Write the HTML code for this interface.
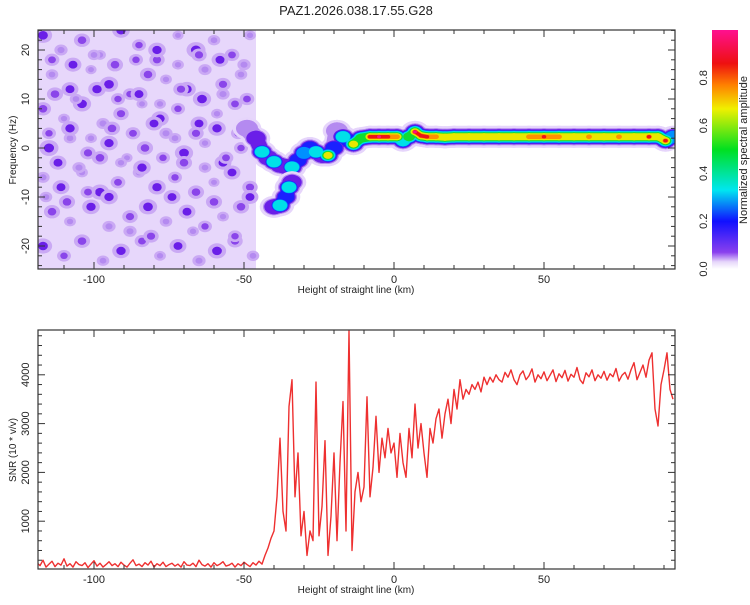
<!DOCTYPE html>
<html><head><meta charset="utf-8"><style>
body{margin:0;background:#fff}
text{font-family:"Liberation Sans",sans-serif;fill:#222}
</style></head><body>
<svg id="fig" width="750" height="600" viewBox="0 0 750 600" xmlns="http://www.w3.org/2000/svg">
<defs>
<clipPath id="clipTop"><rect x="38" y="30" width="637" height="239"/></clipPath>
<clipPath id="clipBot"><rect x="38" y="330" width="637" height="239"/></clipPath>
<linearGradient id="cbar" x1="0" y1="1" x2="0" y2="0">
<stop offset="0" stop-color="#ffffff"/><stop offset="0.03" stop-color="#e6d6fa"/>
<stop offset="0.07" stop-color="#8a40ee"/><stop offset="0.2" stop-color="#1010ff"/>
<stop offset="0.33" stop-color="#00e6f0"/><stop offset="0.5" stop-color="#00e020"/>
<stop offset="0.67" stop-color="#f0f000"/><stop offset="0.77" stop-color="#ff8000"/>
<stop offset="0.86" stop-color="#ee1010"/><stop offset="1" stop-color="#ff1090"/>
</linearGradient>
</defs>
<text x="356" y="15" font-size="13" text-anchor="middle">PAZ1.2026.038.17.55.G28</text>
<g id="topPanel"></g>
<g id="botPanel"></g>
<g id="cbPanel">
<rect x="712" y="30" width="26" height="239" fill="url(#cbar)"/>
<text transform="translate(747,150) rotate(-90)" font-size="11" text-anchor="middle">Normalized spectral amplitude</text>
</g>
</svg>
<script>
const snrStartKm = -119;
const snrValues = [150,90,200,60,120,180,70,140,100,230,80,130,60,170,110,90,150,50,120,190,80,140,60,110,170,90,130,70,160,100,60,140,210,90,120,70,150,100,180,60,130,90,160,70,110,140,80,120,60,170,100,90,140,70,200,110,80,130,60,150,90,120,170,80,100,140,60,130,90,160,110,70,150,100,180,120,
300,450,650,800,1500,
2700,1200,800,3350,3900,1500,2400,700,1200,300,800,600,3850,700,1300,2650,300,1100,2400,600,2200,3450,800,4900,400,1600,2000,1400,1700,3550,1500,2100,3150,2000,2700,2300,2900,2400,
2600,1900,2800,2200,1900,2900,2300,3400,2500,3000,2400,1900,2900,2600,3100,3300,2700,3200,3500,3000,3700,3300,3900,3500,3700,3600,3800,3700,3850,3650,3950,3800,3950,3850,4000,3900,
3850,4050,3950,4100,3900,3800,4000,4080,3900,3980,4120,3850,4000,3920,4060,3880,3990,4100,3860,4020,3940,4090,3870,4010,3950,4150,3900,3820,4040,3960,4100,3880,4000,3930,4070,3890,4020,3960,4130,3870,3990,4050,3910,4100,
4250,3900,4050,4200,3950,4300,4450,3300,2950,3800,4100,4450,3700,3500];
const xTicksMajor = [-100,-50,0,50];
const topYTicks = [-20,-10,0,10,20];
const botYTicks = [1000,2000,3000,4000];
const cbTicks = [0.0,0.2,0.4,0.6,0.8];
const noiseKm = [-117,-111,-104,-98,-91,-85,-79,-72,-66,-60,-54,-48,
 -114,-108,-101,-95,-88,-82,-76,-69,-63,-57,-51,
 -117,-110,-104,-97,-91,-84,-78,-72,-65,-59,-53,-47,
 -115,-108,-102,-95,-89,-83,-76,-70,-63,-57,-51,
 -117,-111,-104,-98,-92,-85,-79,-73,-66,-60,-54,-48,
 -114,-108,-101,-95,-88,-82,-76,-69,-63,-57,-51,
 -117,-110,-104,-97,-91,-84,-78,-72,-65,-59,-53,-47,
 -114,-107,-100,-93,-86,-79,-72,-65,-58,-50,
 -113,-106,-99,-92,-85,-78,-71,-64,-57,-49,
 -115,-108,-101,-94,-87,-80,-73,-66,-59,-52,
 -112,-105,-98,-91,-84,-77,-70,-63,-56,-48,
 -116,-109,-102,-95,-88,-81,-74,-67,-60,-53];
const noiseHz = [23,20,22,19,24,21,18,23,20,22,19,23,
 15,12,16,13,11,15,14,12,16,13,15,
 8,6,9,5,7,9,6,8,5,7,9,4,
 0,2,-1,1,-2,0,3,-1,1,-3,0,
 -6,-8,-5,-9,-7,-5,-8,-6,-9,-7,-5,-8,
 -13,-15,-12,-16,-14,-12,-15,-13,-16,-14,-12,
 -20,-22,-19,-23,-21,-19,-22,-20,-23,-21,-19,-22,
 18,17,19,17,18,20,17,19,18,17,
 11,10,12,10,11,9,12,10,11,10,
 3,4,2,4,3,5,2,3,4,3,
 -3,-4,-2,-3,-4,-2,-3,-4,-2,-10,
 -10,-11,-9,-10,-17,-18,-10,-17,-11,-18];
const noiseAmp = [.15,.08,.12,.06,.14,.09,.11,.05,.16,.07,.10,.06,
 .07,.13,.05,.15,.09,.12,.06,.14,.08,.11,.07,
 .12,.06,.15,.08,.11,.05,.14,.09,.13,.06,.10,.12,
 .16,.07,.11,.14,.05,.12,.08,.15,.06,.13,.09,
 .08,.13,.06,.15,.10,.07,.14,.09,.12,.05,.13,.11,
 .12,.06,.14,.08,.11,.15,.07,.13,.09,.06,.12,
 .15,.09,.12,.07,.14,.10,.06,.13,.08,.15,.11,.07,
 .10,.13,.07,.12,.09,.14,.06,.11,.13,.08,
 .12,.07,.14,.09,.13,.06,.11,.15,.08,.10,
 .09,.14,.06,.12,.10,.13,.07,.11,.14,.09,
 .13,.08,.12,.06,.14,.09,.12,.07,.10,.13,
 .07,.12,.10,.14,.08,.11,.13,.06,.12,.09];
const ridgeKm = [-49,-46,-44,-42,-40,-38,-36,-34,-32,-30,-28,-26,-24,-22,-20,-19,-17,-15,-13.5,-11,-8,-5,-2,1,3,5,7,9,11,14,17,20,25,30,35,40,45,50,55,60,65,70,75,80,85,88,90.5,93];
const ridgeHz = [4,2,-0.8,-2,-2.8,-3.5,-3.8,-3.9,-2.5,-1,0,-0.8,-1.5,-1.5,0,3.5,2.3,1.5,0.8,2,2.3,2.3,2.3,2.3,1.5,2.3,3.3,2.5,2.3,2.3,2.2,2.3,2.3,2.3,2.3,2.3,2.3,2.3,2.3,2.3,2.3,2.3,2.3,2.3,2.3,2.3,1.5,2.3];
const ridgeAmp = [0.12,0.15,0.4,0.15,0.4,0.15,0.18,0.4,0.2,0.3,0.2,0.35,0.18,0.6,0.2,0.12,0.35,0.25,0.6,0.45,0.85,0.9,0.85,0.75,0.4,0.5,0.9,0.85,0.85,0.75,0.55,0.65,0.6,0.55,0.65,0.6,0.7,0.78,0.7,0.65,0.7,0.65,0.7,0.65,0.8,0.6,0.85,0.3];
const branchKm = [-40,-38,-36,-35,-34];
const branchHz = [-12,-11.7,-10,-8,-7];
const branchAmp = [0.15,0.35,0.2,0.35,0.15];

const NS='http://www.w3.org/2000/svg';
const X0=38,X1=675,TY0=30,TY1=269,BY0=330,BY1=569;
const xS=km=>394+3*km;
const yTop=hz=>148-4.9*hz;
const yBot=v=>570-0.0488*v;
const yCb=a=>269-239*a;
function mk(parent,tag,attrs){const e=document.createElementNS(NS,tag);for(const k in attrs)e.setAttribute(k,attrs[k]);parent.appendChild(e);return e;}
function cmap(a){
 if(a<0.05)return '#e6d5fb';if(a<0.09)return '#b48af0';if(a<0.13)return '#8a45ea';if(a<0.2)return '#6a1ee8';
 if(a<0.27)return '#1a20ff';if(a<0.33)return '#0090ff';if(a<0.42)return '#00e0e8';if(a<0.55)return '#10dd30';
 if(a<0.68)return '#e8e800';if(a<0.78)return '#ff9000';if(a<0.9)return '#ee1515';return '#ff1080';}
const topG=document.getElementById('topPanel'),botG=document.getElementById('botPanel'),cbG=document.getElementById('cbPanel');
const topData=mk(topG,'g',{'clip-path':'url(#clipTop)'});


const floorRect=mk(topData,'rect',{x:X0,y:TY0,width:xS(-46)-X0,height:TY1-TY0,fill:'#e7d7fb'});


noiseKm.forEach((k,i)=>{
 const a=noiseAmp[i],r=2.5+a*24;
 const h=mk(topData,'ellipse',{cx:xS(k),cy:yTop(noiseHz[i]),rx:r*1.5,ry:r*1.25,fill:'#caa9f4'});
 
 
 const c=mk(topData,'ellipse',{cx:xS(k),cy:yTop(noiseHz[i]),rx:r*0.8,ry:r*0.7,fill:cmap(a)});
 
 
});
const levels=[0.02,0.08,0.14,0.2,0.27,0.33,0.42,0.55,0.68,0.78,0.9];
const levelWidth=[22,17,15,13,12,11,9,7,4.5,3.5,3];
function drawRidge(kms,hzs,amps,name){
 levels.forEach((l,li)=>{
  const w=levelWidth[li];
  for(let i=0;i<kms.length-1;i++){
   if(Math.min(amps[i],amps[i+1])<l)continue;
   const s=mk(topData,'line',{x1:xS(kms[i]),y1:yTop(hzs[i]),x2:xS(kms[i+1]),y2:yTop(hzs[i+1]),stroke:cmap(l),'stroke-width':w,'stroke-linecap':'round'});
   
   
  }
  for(let i=0;i<kms.length;i++){
   if(amps[i]<l)continue;
   const c=mk(topData,'ellipse',{cx:xS(kms[i]),cy:yTop(hzs[i]),rx:w*0.65,ry:w*0.5,fill:cmap(l)});
   
   
  }
 });
}
drawRidge(ridgeKm,ridgeHz,ridgeAmp,'ridge');
drawRidge(branchKm,branchHz,branchAmp,'ridge-branch');

function frameAxes(g,y0,y1,yMajor,yMinorStep,yMin,yMax,yf,fmt,name){
 const f=mk(g,'rect',{x:X0,y:y0,width:X1-X0,height:y1-y0,fill:'none',stroke:'#333','stroke-width':1.2});
 
 
 for(let k=-110;k<=90;k+=10){
  const L=xTicksMajor.includes(k)?7:4,x=xS(k);
  const t1=mk(g,'line',{x1:x,y1:y1,x2:x,y2:y1-L,stroke:'#333'});
  
  
  const t2=mk(g,'line',{x1:x,y1:y0,x2:x,y2:y0+L,stroke:'#333'});
  
  
 }
 xTicksMajor.forEach(k=>{
  const t=mk(g,'text',{x:xS(k),y:y1+14,'font-size':11,'text-anchor':'middle'});t.textContent=String(k);
  
  
 });
 const xt=mk(g,'text',{x:356,y:y1+24,'font-size':10,'text-anchor':'middle'});xt.textContent='Height of straight line (km)';
 
 
 for(let v=yMin;v<=yMax;v+=yMinorStep){
  const L=yMajor.includes(v)?7:4,y=yf(v);
  if(y<y0||y>y1)continue;
  const a=mk(g,'line',{x1:X0,y1:y,x2:X0+L,y2:y,stroke:'#333'});
  
  
  const b=mk(g,'line',{x1:X1,y1:y,x2:X1-L,y2:y,stroke:'#333'});
  
  
 }
 yMajor.forEach(v=>{
  const t=mk(g,'text',{transform:`translate(29,${yf(v)}) rotate(-90)`,'font-size':11,'text-anchor':'middle'});t.textContent=fmt(v);
  
  
 });
}
frameAxes(topG,TY0,TY1,topYTicks,2,-24,24,yTop,v=>String(v),'spectrogram');
const yt1=mk(topG,'text',{transform:'translate(16,150) rotate(-90)','font-size':10,'text-anchor':'middle'});yt1.textContent='Frequency (Hz)';



const botData=mk(botG,'g',{'clip-path':'url(#clipBot)'});
let d='';
snrValues.forEach((v,i)=>{d+=(i?'L':'M')+xS(snrStartKm+i).toFixed(1)+','+yBot(v).toFixed(1);});
const snrLine=mk(botData,'path',{d:d,fill:'none',stroke:'#ee3030','stroke-width':1.4,'stroke-linejoin':'round'});


frameAxes(botG,BY0,BY1,botYTicks,200,200,4800,yBot,v=>String(v),'snr');
const yt2=mk(botG,'text',{transform:'translate(16,450) rotate(-90)','font-size':10,'text-anchor':'middle'});yt2.textContent='SNR (10 * v/v)';



cbTicks.forEach(v=>{
 const t=mk(cbG,'text',{transform:`translate(707,${yCb(v)}) rotate(-90)`,'font-size':11,'text-anchor':'middle'});t.textContent=v.toFixed(1);
 
 
});
</script>
</body></html>
